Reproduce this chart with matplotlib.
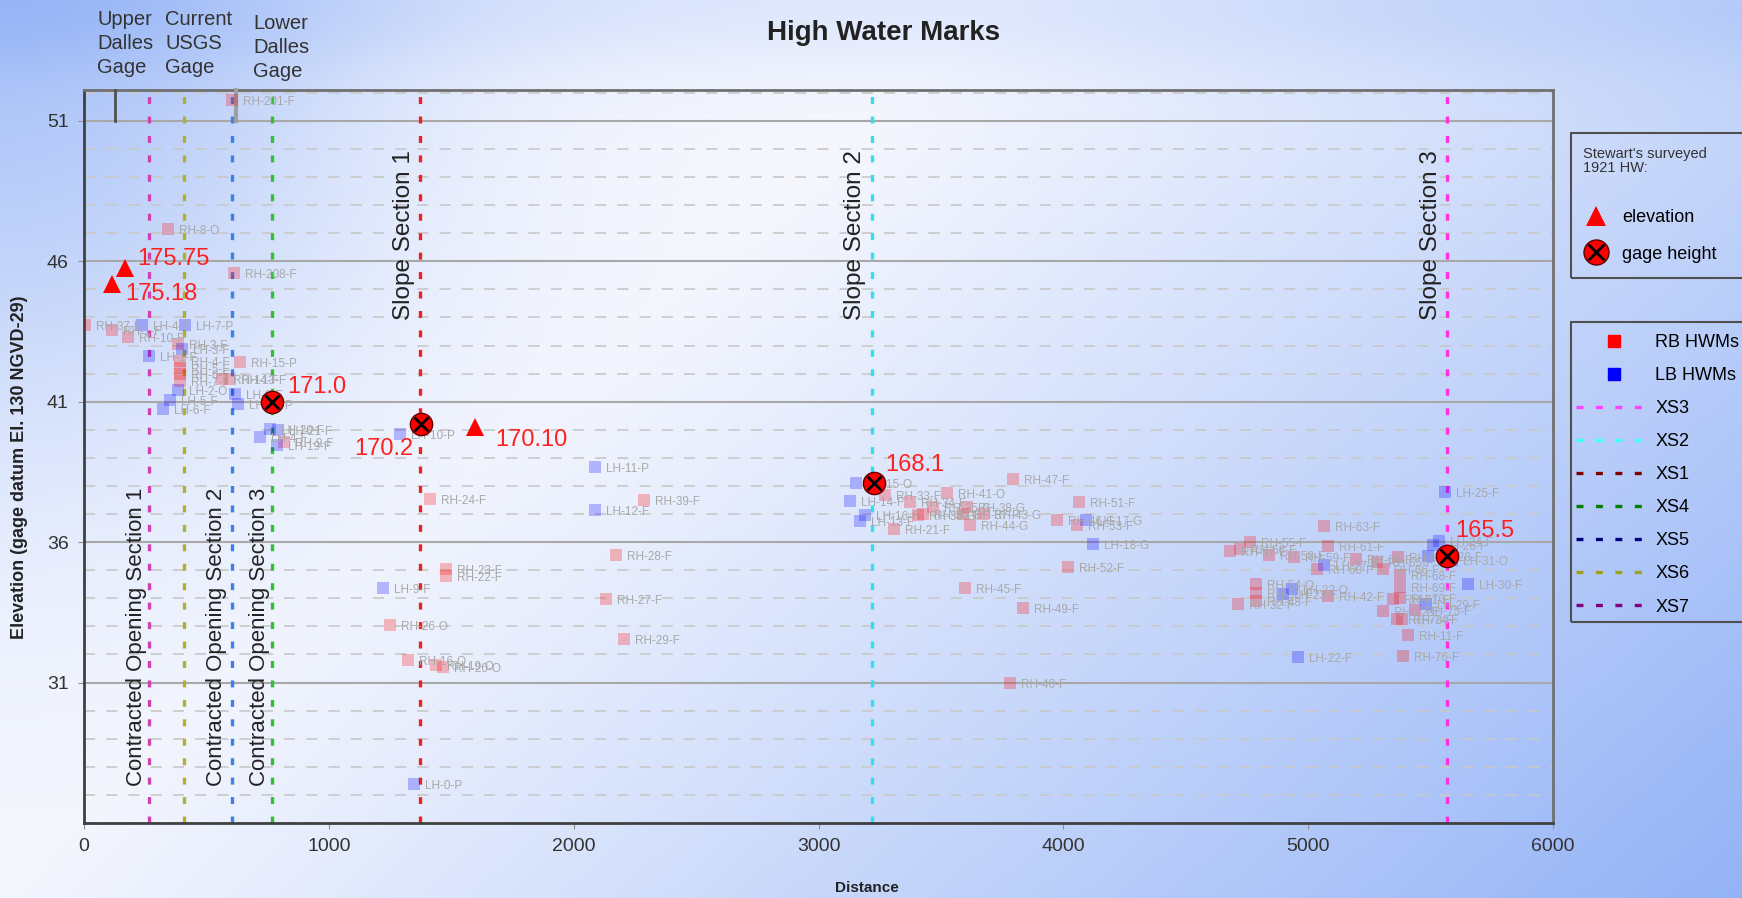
import numpy as np
import matplotlib.pyplot as plt
from matplotlib.lines import Line2D
from matplotlib.patches import Rectangle
from matplotlib.ticker import MultipleLocator

plt.rcParams['font.family'] = ['Liberation Sans', 'DejaVu Sans']
plt.rcParams['lines.scale_dashes'] = False

# cross section lines (distance along reach)
xs_names = ['XS3', 'XS2', 'XS1', 'XS4', 'XS5', 'XS6', 'XS7']
xs_dist = [5568, 3219, 1373, 768, 605, 408, 265]
xs_plot_colors = ['#ff30e0', '#30e0f0', '#f02020', '#30c030', '#3a80f0', '#b0b030', '#d040b0']
xs_legend_colors = ['#ff40ff', '#40ffff', '#800000', '#008000', '#000080', '#a0a020', '#800080']

# section labels and the cross section they sit on
section_labels = ['Slope Section 1', 'Slope Section 2', 'Slope Section 3',
                  'Contracted Opening Section 1', 'Contracted Opening Section 2',
                  'Contracted Opening Section 3']
section_xs = ['XS1', 'XS2', 'XS3', 'XS7', 'XS5', 'XS4']

# Stewart's 1921 surveyed high water
elev_dist = [114, 167, 1597]
elev_val = [45.18, 45.75, 40.10]
elev_text = ['175.18', '175.75', '170.10']
gage_dist = [768, 1377, 3227, 5568]
gage_val = [41.0, 40.2, 38.1, 35.5]
gage_text = ['171.0', '170.2', '168.1', '165.5']

# right bank high water marks
rb_dist = [605, 343, 613, 4, 114, 180, 384, 392, 392, 392, 392, 637, 563, 596, 817,
           1413, 2288, 2173, 1478, 1478, 2132, 1250, 2205, 1324, 1437, 1466,
           3795, 3272, 3525, 3374, 3468, 3428, 3407, 3591, 3672, 3607, 3309, 3619,
           3975, 4063, 4055, 4020, 3599, 3836, 3783,
           5066, 4681, 4722, 4763, 4841, 5082, 4943, 5037, 5196, 5282, 5306, 5368,
           5376, 5376, 5376, 5347, 5306, 5364, 5384, 5437, 4788, 4788, 4788,
           4714, 5082, 5409, 5388]
rb_elev = [51.75, 47.14, 45.57, 43.75, 43.57, 43.30, 43.07, 42.45, 42.20, 42.00, 41.75, 42.43, 41.82, 41.82, 39.57,
           37.54, 37.50, 35.54, 35.04, 34.80, 33.96, 33.04, 32.54, 31.82, 31.64, 31.54,
           38.25, 37.68, 37.75, 37.43, 37.25, 37.00, 36.96, 37.00, 37.00, 37.25, 36.46, 36.60,
           36.79, 37.43, 36.60, 35.10, 34.36, 33.64, 31.00,
           36.57, 35.68, 35.75, 36.00, 35.54, 35.86, 35.46, 35.04, 35.39, 35.29, 35.04, 35.46,
           34.82, 34.40, 34.00, 33.96, 33.54, 33.25, 33.25, 33.57, 34.50, 34.20, 33.90,
           33.79, 34.07, 32.70, 31.96]
rb_name = ['RH-201-F', 'RH-8-O', 'RH-208-F', 'RH-37-F', 'RH-1-F', 'RH-10-F', 'RH-3-F', 'RH-4-F', 'RH-5-F', 'RH-6-F', 'RH-7-F', 'RH-15-P', 'RH-14-F', 'RH-13-F', 'RH-9-F',
           'RH-24-F', 'RH-39-F', 'RH-28-F', 'RH-23-F', 'RH-22-F', 'RH-27-F', 'RH-26-O', 'RH-29-F', 'RH-16-O', 'RH-19-O', 'RH-20-O',
           'RH-47-F', 'RH-33-F', 'RH-41-O', 'RH-34-F', 'RH-35-G', 'RH-36-G', 'RH-30-G', 'RH-37-F', 'RH-43-G', 'RH-38-G', 'RH-21-F', 'RH-44-G',
           'RH-46-G', 'RH-51-F', 'RH-53-F', 'RH-52-F', 'RH-45-F', 'RH-49-F', 'RH-40-F',
           'RH-63-F', 'RH-57-F', 'RH-56-F', 'RH-55-F', 'RH-58-F', 'RH-61-F', 'RH-59-F', 'RH-60-F', 'RH-64-F', 'RH-65-F', 'RH-66-F', 'RH-67-F',
           'RH-68-F', 'RH-69-F', 'RH-70-F', 'RH-71-F', 'RH-72-F', 'RH-73-F', 'RH-74-F', 'RH-75-F', 'RH-54-O', 'RH-50-F', 'RH-48-F',
           'RH-32-F', 'RH-42-F', 'RH-11-F', 'RH-76-F']

# left bank high water marks
lb_dist = [237, 413, 400, 265, 384, 351, 323, 617, 629, 719, 760, 793, 788, 1291,
           2087, 2087, 1222, 1348, 3154, 3129, 3190, 3170, 4092, 4122,
           5560, 5535, 5511, 5066, 5490, 5482, 5654, 4898, 4935, 4959, 5588]
lb_elev = [43.75, 43.75, 42.86, 42.64, 41.43, 41.07, 40.75, 41.29, 40.93, 39.75, 40.04, 40.00, 39.46, 39.86,
           38.68, 37.14, 34.36, 27.39, 38.11, 37.46, 36.96, 36.75, 36.79, 35.93,
           37.79, 36.04, 35.90, 35.18, 35.50, 33.79, 34.50, 34.14, 34.32, 31.90, 35.36]
lb_name = ['LH-4-F', 'LH-7-P', 'LH-3-F', 'LH-1-F', 'LH-2-O', 'LH-5-F', 'LH-6-F', 'LH-8-F', 'LH-13-P', 'LH-4-F', 'LH-20-F', 'LH-21-F', 'LH-19-F', 'LH-10-P',
           'LH-11-P', 'LH-12-F', 'LH-9-F', 'LH-0-P', 'LH-15-O', 'LH-14-F', 'LH-16-F', 'LH-13-F', 'LH-17-G', 'LH-18-G',
           'LH-25-F', 'LH-24-F', 'LH-26-F', 'LH-27-F', 'LH-28-F', 'LH-29-F', 'LH-30-F', 'LH-23-F', 'LH-22-O', 'LH-22-F', 'LH-31-O']

# gage markers at top of plot
gage_mark_dist = [127, 620]

W, H = 1742, 898
fig = plt.figure(figsize=(W / 100, H / 100), dpi=100)

# background gradient
bg = fig.add_axes([0, 0, 1, 1], zorder=-10)
v, u = np.mgrid[0:1:300j, 0:1:580j]
b = (0.7 * np.exp(-(u / 0.22) ** 2 - (v / 0.5) ** 2)
     + np.clip(0.95 * (u - 0.4) + 0.55 * (v - 0.3), 0, 1)
     + 0.22 * np.exp(-(v / 0.08) ** 2))
b = np.clip(b, 0, 1)
white = np.array([0.965, 0.972, 0.996])
blue = np.array([0.56, 0.69, 0.965])
bg.imshow(white + b[..., None] * (blue - white), aspect='auto', extent=[0, 1, 0, 1])
bg.axis('off')

ax = fig.add_axes([84 / W, 1 - 823 / H, (1553 - 84) / W, (823 - 90) / H])
ax.set_facecolor('none')
ax.set_xlim(0, 6000)
ax.set_ylim(26, 52.1)
ax.set_xticks(range(0, 6001, 1000))
ax.set_yticks([31, 36, 41, 46, 51])
ax.yaxis.set_minor_locator(MultipleLocator(1))
ax.grid(axis='y', which='major', color='#a8a8a8', lw=1.5, zorder=0)
ax.grid(axis='y', which='minor', color='#c8c8c8', lw=1.2, dashes=(8, 8), zorder=0)
ax.tick_params(which='minor', length=0)
ax.tick_params(which='major', length=4, color='#909090', labelsize=14,
               labelcolor='#333333', pad=7)
for side in ['left', 'bottom']:
    ax.spines[side].set_color('#404040')
    ax.spines[side].set_linewidth(2)
for side in ['top', 'right']:
    ax.spines[side].set_color('#707070')
    ax.spines[side].set_linewidth(2)

# cross section lines
for d, c in zip(xs_dist, xs_plot_colors):
    ax.axvline(d, color=c, lw=2.4, dashes=(5, 9), zorder=2)

# section labels, set just left of their line
label_shift = [-68, -68, -68, -50, -62, -52]
for lab, xsn, sh in zip(section_labels, section_xs, label_shift):
    d = xs_dist[xs_names.index(xsn)]
    if lab.startswith('Slope'):
        ax.text(d + sh, 43.9, lab, rotation=90, ha='center', va='bottom',
                fontsize=17.5, color='#222222', zorder=3)
    else:
        ax.text(d + sh, 27.3, lab, rotation=90, ha='center', va='bottom',
                fontsize=16, color='#222222', zorder=3)

# gage marker ticks at the top
ax.plot([gage_mark_dist[0]] * 2, [51, 52.1], color='#505050', lw=2, clip_on=False, zorder=3)
ax.plot([gage_mark_dist[1]] * 2, [51, 52.1], color='#a0a0a0', lw=3, clip_on=False, zorder=3)

# high water marks
ax.plot(rb_dist, rb_elev, 's', color='red', alpha=0.25, ms=8.5, mew=0, zorder=4)
ax.plot(lb_dist, lb_elev, 's', color='blue', alpha=0.25, ms=8.5, mew=0, zorder=4)
for d, e, n in zip(rb_dist + lb_dist, rb_elev + lb_elev, rb_name + lb_name):
    ax.annotate(n, (d, e), xytext=(11, -2), textcoords='offset pixels',
                fontsize=8.5, color='#a8a8a8', va='center', zorder=4)

# Stewart's surveyed points
ax.plot(elev_dist, elev_val, '^', color='red', ms=13, mew=0, zorder=6)
ax.plot(gage_dist, gage_val, 'o', color='red', mec='#600000', ms=16, zorder=6)
ax.plot(gage_dist, gage_val, 'x', color='black', ms=10, mew=2, zorder=7)
elev_offsets = [(13, -10), (12, 9), (20, -13)]
gage_offsets = [(15, 15), (-8, -25), (11, 18), (8, 25)]
for d, e, t, off in zip(elev_dist, elev_val, elev_text, elev_offsets):
    ax.annotate(t, (d, e), xytext=off, textcoords='offset pixels', fontsize=17,
                color='#ff2020', ha='left', va='center', zorder=8)
for d, e, t, off in zip(gage_dist, gage_val, gage_text, gage_offsets):
    ax.annotate(t, (d, e), xytext=off, textcoords='offset pixels', fontsize=17,
                color='#ff2020', ha='right' if off[0] < 0 else 'left',
                va='center', zorder=8)

fig.text(867 / W, 1 - 888 / H, 'Distance', ha='center', va='center',
         fontsize=11, fontweight='bold', color='#222222')
fig.text(20 / W, 1 - 467 / H, 'Elevation (gage datum El. 130 NGVD-29)', rotation=90,
         ha='center', va='center', fontsize=13, fontweight='bold', color='#222222')
fig.text(0.507, 1 - 33 / H, 'High Water Marks', ha='center', va='center',
         fontsize=20, fontweight='bold', color='#222222')

# gage names above the plot
fig.text(97 / W, 1 - 10 / H, 'Upper\nDalles\nGage', ha='left', va='top', fontsize=14.5,
         color='#333333', linespacing=1.32)
fig.text(165 / W, 1 - 10 / H, 'Current\nUSGS\nGage', ha='left', va='top', fontsize=14.5,
         color='#333333', linespacing=1.32)
fig.text(253 / W, 1 - 14 / H, 'Lower\nDalles\nGage', ha='left', va='top', fontsize=14.5,
         color='#333333', linespacing=1.32)

# legend boxes
for top, bot in [(133, 278), (322, 622)]:
    fig.add_artist(Rectangle((1571 / W, 1 - bot / H), 240 / W, (bot - top) / H,
                             transform=fig.transFigure, fill=False, ec='#505050',
                             lw=1.5, clip_on=False))

# legend 1
h1 = [Line2D([], [], marker='^', color='red', ls='none', ms=14, mew=0),
      (Line2D([], [], marker='o', color='red', mec='#600000', ls='none', ms=18),
       Line2D([], [], marker='x', color='black', ls='none', ms=11, mew=2))]
leg1 = fig.legend(h1, ['elevation', 'gage height'], loc='upper left',
                  bbox_to_anchor=(1583 / W, 1 - 147 / H), title="Stewart's surveyed\n1921 HW:\n",
                  title_fontsize=10.5, fontsize=13, frameon=False, alignment='left',
                  handlelength=1.4, handletextpad=0.75, labelspacing=1.1,
                  borderpad=0, borderaxespad=0)
leg1.get_title().set_color('#333333')
leg1.get_title().set_linespacing(1.0)

# legend 2
h2 = [Line2D([], [], marker='s', color='red', ls='none', ms=8),
      Line2D([], [], marker='s', color='blue', ls='none', ms=8)]
h2 += [Line2D([], [], color=c, lw=2.4, dashes=(5, 9)) for c in xs_legend_colors]
leg2 = fig.legend(h2, ['RB HWMs', 'LB HWMs'] + xs_names, loc='upper left',
                  bbox_to_anchor=(1576 / W, 1 - 334 / H), fontsize=13, frameon=False,
                  handlelength=4.2, handletextpad=0.2, labelspacing=0.89,
                  borderpad=0, borderaxespad=0)

fig.savefig('out.png', dpi=100)
